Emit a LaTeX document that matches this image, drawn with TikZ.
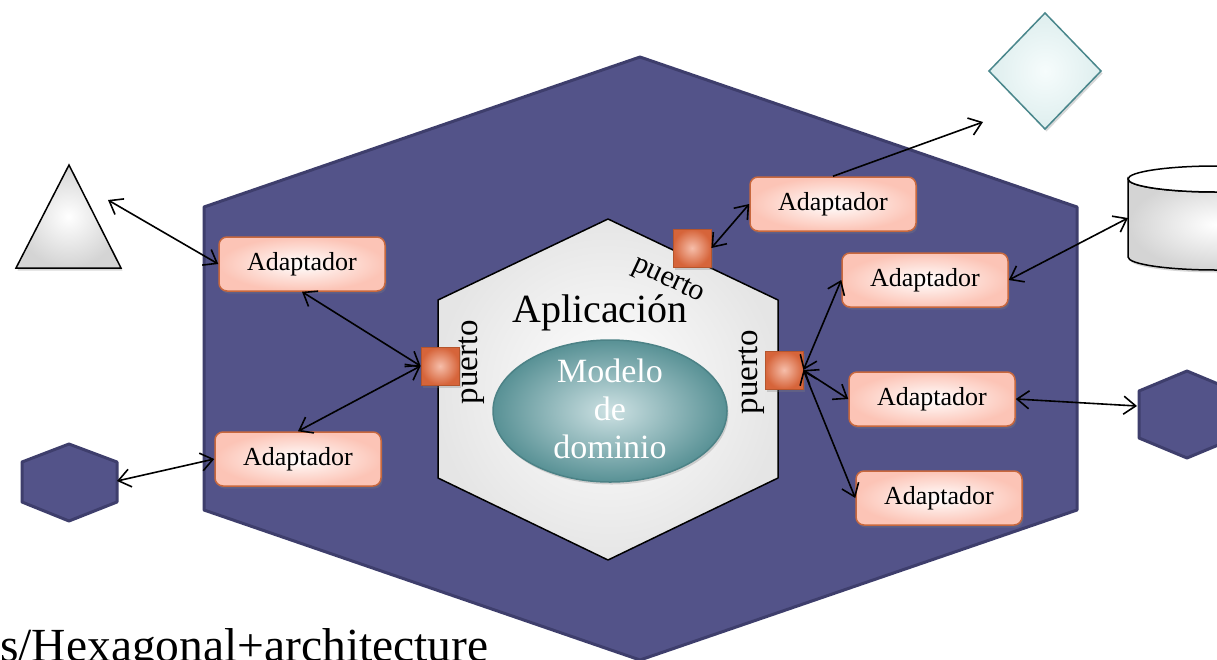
\documentclass[tikz,border=0pt]{standalone}
\usepackage{fontspec}
\setmainfont{Liberation Serif}
\usetikzlibrary{arrows.meta,shadows,shapes.geometric}
\definecolor{hexfill}{RGB}{83,83,137}
\definecolor{hexdraw}{RGB}{62,62,108}
\definecolor{adraw}{RGB}{200,104,62}
\definecolor{aout}{RGB}{252,196,182}
\definecolor{pout}{RGB}{214,100,58}
\definecolor{pin}{RGB}{246,190,170}
\definecolor{pdraw}{RGB}{180,85,45}
\definecolor{ein}{RGB}{205,225,227}
\definecolor{eout}{RGB}{88,145,149}
\definecolor{edraw}{RGB}{76,130,134}
\definecolor{din}{RGB}{246,252,252}
\definecolor{dout}{RGB}{222,238,238}
\definecolor{ddraw}{RGB}{74,135,140}
\begin{document}
\begin{tikzpicture}[x=1pt,y=-1pt,
  shadowed/.style={drop shadow={opacity=0.3,shadow xshift=1.5pt,shadow yshift=-2.5pt}},
  adapt/.style={draw=adraw, line width=1.5pt, rounded corners=8pt, inner color=white, outer color=aout,
    minimum width=166pt, minimum height=54pt, font=\fontsize{26}{30}\selectfont, shadowed},
  port/.style={draw=pdraw, line width=0.8pt, inner color=pin, outer color=pout,
    minimum size=38pt, inner sep=0pt, shadowed},
  smallhex/.style={draw=hexdraw, fill=hexfill, line width=3pt, line join=round},
  extshape/.style={draw=black, line width=1.5pt, inner color=white, outer color=black!17, shadowed},
  lbl/.style={font=\fontsize{33}{36}\selectfont, inner sep=0pt},
  link/.style={line width=1.6pt, {Straight Barb[length=12pt,width=18pt]}-{Straight Barb[length=12pt,width=18pt]}},
  linkone/.style={line width=1.6pt, -{Straight Barb[length=12pt,width=18pt]}}]
\clip (0,0) rectangle (1217,659);
\fill[white] (0,0) rectangle (1217,659);

% outer hexagon
\draw[draw=hexdraw, fill=hexfill, line width=3pt, line join=round]
  (640,57) -- (1077,207) -- (1077,510) -- (640,660) -- (204,510) -- (204,207) -- cycle;

% inner hexagon
\draw[line width=1.5pt, inner color=white, outer color=black!10, line join=round]
  (608,219) -- (778,300) -- (778,478) -- (608,560) -- (438,478) -- (438,300) -- cycle;

% domain model
\node[ellipse, draw=edraw, line width=1.5pt, inner color=ein, outer color=eout,
  minimum width=234pt, minimum height=142pt, shadowed] (dm) at (610,411) {};
\node[text=white, align=center, font=\fontsize{34}{38}\selectfont, inner sep=0pt] (dmt) at (610,409) {Modelo\\de\\dominio};

\node[font=\fontsize{40}{44}\selectfont, anchor=base, inner sep=0pt] (app) at (600,322) {Aplicación};

% port labels
\node[lbl, rotate=90] (lpl) at (472,362) {puerto};
\node[lbl, rotate=90] (rpl) at (752,372) {puerto};
\node[lbl, font=\fontsize{30}{33}\selectfont, rotate=-25] (tpl) at (668,281) {puerto};

% ports
\node[port] (pL) at (440,366) {};
\node[port] (pT) at (692,248) {};
\node[port] (pR) at (784,370) {};

% adapters
\node[adapt] (a1) at (302,264) {Adaptador};
\node[adapt] (a2) at (298,459) {Adaptador};
\node[adapt] (a3) at (833,204) {Adaptador};
\node[adapt] (a4) at (925,280) {Adaptador};
\node[adapt] (a5) at (932,399) {Adaptador};
\node[adapt] (a6) at (939,498) {Adaptador};

% external shapes
\draw[extshape, line join=miter] (69,165) -- (121,268) -- (16,268) -- cycle;
\coordinate (tri) at (108,200);

\draw[smallhex] (69,444) -- (117,462) -- (117,502) -- (69,521) -- (22,502) -- (22,462) -- cycle;
\coordinate (lhex) at (117,481);

\draw[draw=ddraw, line width=1.5pt, inner color=din, outer color=dout, shadowed]
  (1045,13) -- (1101,71) -- (1045,129) -- (989,71) -- cycle;
\coordinate (dia) at (983,122);

\draw[extshape] (1128,179) -- (1128,257) arc[start angle=180, end angle=0, x radius=88, y radius=13]
  -- (1304,179) arc[start angle=0, end angle=180, x radius=88, y radius=13] -- cycle;
\draw[line width=1.5pt, fill=white] (1216,179) ellipse[x radius=88, y radius=13];
\coordinate (cyl) at (1128,218);

\draw[smallhex] (1187,371) -- (1235,391) -- (1235,438) -- (1187,458) -- (1139,438) -- (1139,391) -- cycle;
\coordinate (rhex) at (1137,406);

% connectors
\draw[link] (tri) -- (a1.west);
\draw[link] (a1.south) -- (pL.west);
\draw[link] (a2.north) -- (pL.west);
\draw[link] (lhex) -- (a2.west);
\draw[link] (pT.east) -- (a3.west);
\draw[linkone] (a3.north) -- (dia);
\draw[link] (pR.east) -- (a4.west);
\draw[link] (pR.east) -- (a5.west);
\draw[link] (pR.east) -- (a6.west);
\draw[link] (a4.east) -- (cyl);
\draw[link] (a5.east) -- (rhex);

% caption fragment
\node[font=\fontsize{47.5}{50}\selectfont, anchor=base west, inner sep=0pt] (url) at (0,661) {s/Hexagonal+architecture};
\end{tikzpicture}
\end{document}
